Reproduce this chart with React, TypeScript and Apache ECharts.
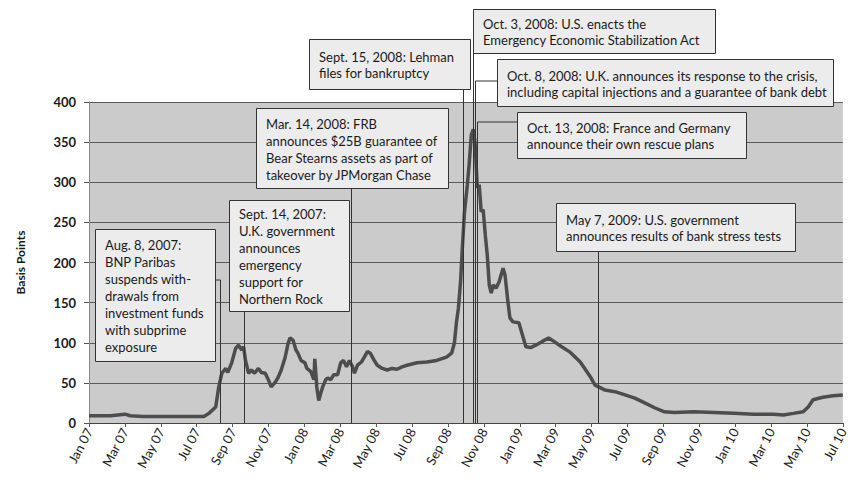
import React, { useEffect, useRef } from "react";
import * as echarts from "echarts";

// x positions are months since Jan 2007 (0 = Jan 07, 42 = Jul 10)
const monthNames = ["Jan", "Feb", "Mar", "Apr", "May", "Jun", "Jul", "Aug", "Sep", "Oct", "Nov", "Dec"];

const spreadMonth = [
  0, 0.6, 1.2, 2.0, 2.3, 3.0, 4.0, 5.0, 5.8, 6.4, 6.68, 7.06, 7.23, 7.4, 7.62, 7.73, 7.95, 8.17, 8.33, 8.5,
  8.61, 8.72, 8.89, 9.05, 9.22, 9.44, 9.6, 9.82, 9.99, 10.15, 10.38, 10.54, 10.71, 10.93, 11.09, 11.2, 11.37,
  11.53, 11.64, 11.81, 12.03, 12.14, 12.36, 12.53, 12.58, 12.69, 12.8, 12.91, 13.02, 13.19, 13.3, 13.47, 13.63,
  13.85, 14.02, 14.18, 14.35, 14.51, 14.68, 14.79, 14.96, 15.18, 15.34, 15.51, 15.67, 15.89, 16.06, 16.34,
  16.61, 16.89, 17.16, 17.44, 17.72, 18.27, 18.82, 19.37, 19.92, 20.2, 20.36, 20.47, 20.58, 20.7, 20.81,
  20.92, 21.08, 21.19, 21.3, 21.41, 21.52, 21.63, 21.74, 21.85, 21.96, 22.08, 22.19, 22.3, 22.41, 22.52,
  22.68, 22.85, 23.07, 23.18, 23.34, 23.45, 23.62, 23.95, 24.34, 24.61, 24.89, 25.28, 25.61, 25.88, 26.27,
  26.82, 27.37, 27.92, 28.2, 28.48, 28.75, 29.3, 29.86, 30.41, 30.96, 31.51, 32.06, 32.62, 33.72, 34.82,
  35.93, 37.03, 38.13, 38.68, 39.24, 39.79, 40.07, 40.34, 40.89, 41.45, 42.0,
];
const spreadBp = [
  9, 9, 9, 11, 9, 8, 8, 8, 8, 8, 12, 20, 45, 62, 68, 63, 75, 93, 97, 91,
  95, 78, 62, 66, 62, 68, 63, 62, 54, 45, 51, 57, 66, 82, 99, 106, 103,
  91, 87, 78, 75, 68, 64, 54, 80, 45, 28, 37, 45, 54, 56, 54, 60,
  60, 75, 78, 70, 78, 70, 62, 72, 76, 82, 89, 87, 78, 72, 68,
  66, 68, 67, 70, 72, 75, 76, 78, 82, 87, 100, 125, 143, 176, 222,
  263, 297, 325, 359, 366, 346, 293, 297, 263, 266, 234, 209, 172, 162, 172,
  168, 176, 193, 184, 151, 131, 126, 125, 95, 94, 97, 102, 106, 102, 96,
  88, 76, 58, 47, 44, 41, 39, 35, 31, 25, 19, 14, 13, 14, 13,
  12, 11, 11, 10, 12, 14, 20, 29, 32, 34, 35,
];

// event markers (month position) and their texts
const eventMonth = [7.28, 8.64, 14.62, 20.86, 21.41, 21.52, 21.63, 28.35];
const eventText = [
  ["Aug. 8, 2007:", "BNP Paribas", "suspends with-", "drawals from", "investment funds", "with subprime", "exposure"],
  ["Sept. 14, 2007:", "U.K. government", "announces", "emergency", "support for", "Northern Rock"],
  ["Mar. 14, 2008: FRB", "announces $25B guarantee of", "Bear Stearns assets as part of", "takeover by JPMorgan Chase"],
  ["Sept. 15, 2008: Lehman", "files for bankruptcy"],
  ["Oct. 3, 2008: U.S. enacts the", "Emergency Economic Stabilization Act"],
  ["Oct. 8, 2008: U.K. announces its response to the crisis,", "including capital injections and a guarantee of bank debt"],
  ["Oct. 13, 2008: France and Germany", "announce their own rescue plans"],
  ["May 7, 2009: U.S. government", "announces results of bank stress tests"],
];

// layout of the annotation boxes (pixels)
const boxLayout = [
  { x: 95, y: 229, w: 120, h: 132, lineTop: 280, hook: "right" },
  { x: 229, y: 200, w: 120, h: 111, lineTop: 311, hook: "" },
  { x: 256, y: 108, w: 192, h: 80, lineTop: 188, hook: "" },
  { x: 309, y: 39, w: 161, h: 50, lineTop: 89, hook: "" },
  { x: 473, y: 9, w: 242, h: 44, lineTop: 53, hook: "" },
  { x: 497, y: 59, w: 336, h: 47, lineTop: 81, hook: "left" },
  { x: 517, y: 112, w: 229, h: 46, lineTop: 122, hook: "left" },
  { x: 556, y: 203, w: 239, h: 48, lineTop: 251, hook: "" },
];

const FONT = "Lato, 'Open Sans', sans-serif";

export default function App() {
  const ref = useRef<HTMLDivElement>(null);
  useEffect(() => {
    document.body.style.margin = "0";
    const chart = echarts.init(ref.current!, null, { renderer: "svg" });
    chart.setOption({
      animation: false,
      backgroundColor: "#ffffff",
      grid: {
        left: 89,
        right: 0,
        top: 102,
        bottom: 57,
        show: true,
        backgroundColor: "#cbcbcb",
        borderWidth: 0,
      },
      xAxis: {
        type: "value",
        min: 0,
        max: 42,
        interval: 2,
        axisLine: { show: true, onZero: false, lineStyle: { color: "#444", width: 1 } },
        axisTick: { show: true, length: 4, lineStyle: { color: "#555" } },
        splitLine: { show: false },
        axisLabel: {
          rotate: 62,
          margin: 6,
          fontFamily: FONT,
          fontSize: 13,
          color: "#1a1a1a",
          showMaxLabel: true,
          formatter: (v: number) => {
            const m = Math.round(v);
            const yr = 7 + Math.floor(m / 12);
            return monthNames[m % 12] + " " + (yr < 10 ? "0" + yr : "" + yr);
          },
        },
      },
      yAxis: {
        type: "value",
        min: 0,
        max: 400,
        interval: 50,
        name: "Basis Points",
        nameLocation: "middle",
        nameGap: 63,
        nameRotate: 90,
        nameTextStyle: { fontFamily: FONT, fontSize: 12, fontWeight: "bold", color: "#1a1a1a" },
        axisLine: { show: true, lineStyle: { color: "#888", width: 1 } },
        axisTick: { show: true, length: 5, lineStyle: { color: "#555" } },
        axisLabel: { margin: 13, fontFamily: FONT, fontSize: 13, fontWeight: "bold", color: "#1a1a1a" },
        splitLine: { show: true, lineStyle: { color: "#5a5a5a", width: 1 } },
      },
      series: [
        {
          type: "line",
          data: spreadMonth.map((m, i) => [m, spreadBp[i]]),
          showSymbol: false,
          symbol: "none",
          lineStyle: { color: "#4d4d4d", width: 3.5 },
          z: 3,
        },
      ],
    });

    const graphics: any[] = [];
    eventMonth.forEach((m, i) => {
      const p = chart.convertToPixel({ gridIndex: 0 }, [m, 0]) as number[];
      const px = Math.round(p[0]) + 0.5;
      const b = boxLayout[i];
      graphics.push({
        type: "line",
        z: 50,
        shape: { x1: px, y1: b.lineTop, x2: px, y2: p[1] },
        style: { stroke: "#333", lineWidth: 1 },
      });
      if (b.hook === "right") {
        graphics.push({
          type: "line",
          z: 50,
          shape: { x1: b.x + b.w, y1: b.lineTop, x2: px, y2: b.lineTop },
          style: { stroke: "#333", lineWidth: 1 },
        });
      } else if (b.hook === "left") {
        graphics.push({
          type: "line",
          z: 50,
          shape: { x1: px, y1: b.lineTop, x2: b.x, y2: b.lineTop },
          style: { stroke: "#333", lineWidth: 1 },
        });
      }
    });
    eventText.forEach((lines, i) => {
      const b = boxLayout[i];
      graphics.push({
        type: "rect",
        z: 100,
        shape: { x: b.x + 0.5, y: b.y + 0.5, width: b.w, height: b.h },
        style: { fill: "#ececec", stroke: "#333", lineWidth: 1 },
      });
      graphics.push({
        type: "text",
        z: 101,
        x: b.x + 10,
        y: b.y + b.h / 2 + 1,
        style: {
          text: lines.join("\n"),
          fontFamily: FONT,
          fontSize: 13,
          lineHeight: lines.length > 2 ? 17 : 16,
          fill: "#1a1a1a",
          verticalAlign: "middle",
          align: "left",
        },
      });
    });
    chart.setOption({ graphic: graphics });
    return () => chart.dispose();
  }, []);
  return <div ref={ref} style={{ width: 850, height: 480 }} />;
}
